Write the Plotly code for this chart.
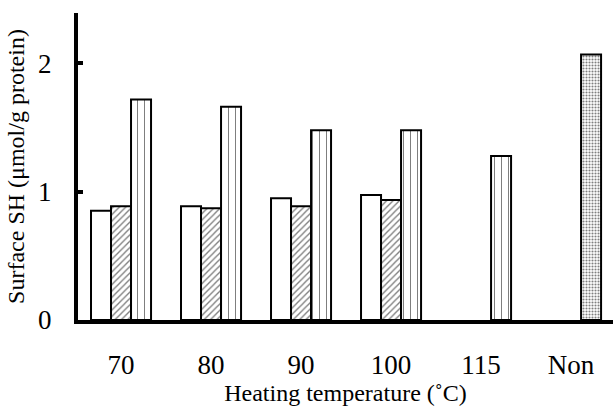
import plotly.graph_objects as go

categories = ["70", "80", "90", "100", "115", "Non"]
white_vals = [0.85, 0.885, 0.947, 0.973, None, None]
hatched_vals = [0.885, 0.87, 0.885, 0.934, None, None]
vertical_vals = [1.717, 1.66, 1.477, 1.477, 1.277, 2.066]
vertical_shapes = ["|", "|", "|", "|", "|", "."]

FONT = "Liberation Serif, Times New Roman, serif"

fig = go.Figure()
fig.add_trace(go.Bar(
    x=categories, y=white_vals, name="A",
    marker=dict(color="white", line=dict(color="black", width=2)),
))
fig.add_trace(go.Bar(
    x=categories, y=hatched_vals, name="B",
    marker=dict(color="white", line=dict(color="black", width=2),
                pattern=dict(shape="/", size=4.5, solidity=0.3,
                             fgcolor="black", bgcolor="white", fillmode="overlay")),
))
fig.add_trace(go.Bar(
    x=categories, y=vertical_vals, name="C",
    marker=dict(color="white", line=dict(color="black", width=2),
                pattern=dict(shape=vertical_shapes, size=[7, 7, 7, 7, 7, 3],
                             solidity=[0.15, 0.15, 0.15, 0.15, 0.15, 0.4],
                             fgcolor="black", bgcolor="white", fillmode="overlay")),
))

fig.update_layout(
    width=613, height=409,
    margin=dict(l=78, r=0, t=13, b=89),
    barmode="group", bargap=0.333, bargroupgap=0,
    plot_bgcolor="white", paper_bgcolor="white",
    showlegend=False,
    font=dict(family=FONT, color="black"),
)
fig.update_xaxes(
    type="category", range=[-0.478, 5.466],
    showline=True, linecolor="black", linewidth=4,
    ticks="", showgrid=False, zeroline=False,
    tickfont=dict(size=27, family=FONT),
    ticklabelstandoff=18,
    title=dict(text="Heating temperature (˚C)", font=dict(size=24, family=FONT), standoff=2),
)
fig.update_yaxes(
    range=[0, 2.39], tickvals=[0, 1, 2],
    showline=True, linecolor="black", linewidth=4,
    ticks="inside", ticklen=5, tickwidth=4, tickcolor="black",
    showgrid=False, zeroline=False,
    tickfont=dict(size=27, family=FONT),
    ticklabelstandoff=17,
    title=dict(text="Surface SH (μmol/g protein)", font=dict(size=24, family=FONT), standoff=8),
)

fig.write_html("out.html")
